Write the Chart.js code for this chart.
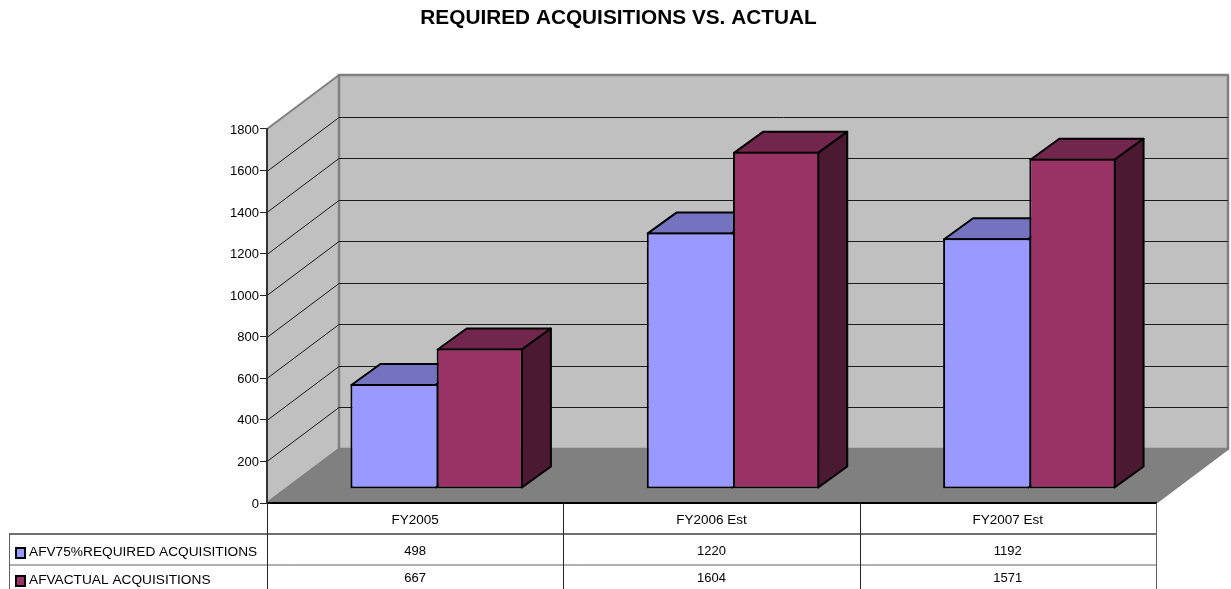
<!DOCTYPE html>
<html>
<head>
<meta charset="utf-8">
<title>Required acquisitions vs. actual</title>
<script src="https://cdn.jsdelivr.net/npm/chart.js@4/dist/chart.umd.min.js"></script>
<style>
  html, body { margin: 0; padding: 0; background: #fff; overflow: hidden; }
  canvas { display: block; }
</style>
</head>
<body>
<canvas id="chartAcq" width="1231" height="589"></canvas>
<script>
const categories = ['FY2005', 'FY2006 Est', 'FY2007 Est'];
const requiredName = 'AFV75%REQUIRED ACQUISITIONS';
const actualName = 'AFVACTUAL ACQUISITIONS';
const requiredValues = [498, 1220, 1192];
const actualValues = [667, 1604, 1571];

const FONT = '"Liberation Sans", Arial, sans-serif';
const BLUE = '#9999ff', BLUE_TOP = '#7373bf', BLUE_SIDE = '#4d4d80';
const RED = '#993366', RED_TOP = '#73264d', RED_SIDE = '#4c1933';

// box depth of the plot, the bars' plane inside it, and the bars' own depth
const wall = { dx: 72, dy: -54 };
const plane = { dx: 21.5, dy: -14.5 };
const bar = { dx: 29, dy: -21 };

function poly(ctx, pts, fill, stroke, lw) {
  ctx.beginPath();
  pts.forEach((p, i) => i ? ctx.lineTo(p[0], p[1]) : ctx.moveTo(p[0], p[1]));
  ctx.closePath();
  if (fill) { ctx.fillStyle = fill; ctx.fill(); }
  if (stroke) { ctx.strokeStyle = stroke; ctx.lineWidth = lw; ctx.stroke(); }
}

const box3d = {
  id: 'box3d',
  afterLayout(chart) {
    // title sits a little right of the canvas middle
    chart.titleBlock.left = 0;
    chart.titleBlock.right = 1237;
  },
  beforeDraw(chart) {
    const { ctx, chartArea: a, scales } = chart;
    const l = a.left, r = a.right, t = a.top, b = a.bottom;
    const dx = wall.dx, dy = wall.dy;
    ctx.save();
    ctx.lineJoin = 'round';
    // back wall, side wall, floor
    poly(ctx, [[l, t], [l + dx, t + dy], [l + dx, b + dy], [l, b]], '#c0c0c0', '#808080', 2);
    poly(ctx, [[l + dx, t + dy], [r + dx, t + dy], [r + dx, b + dy], [l + dx, b + dy]], '#c0c0c0', '#808080', 2.5);
    poly(ctx, [[l, b], [l + dx, b + dy], [r + dx, b + dy], [r, b]], '#808080', '#808080', 2);
    // grid runs along the side wall and across the back
    ctx.strokeStyle = '#1a1a1a';
    ctx.lineWidth = 1;
    scales.y.ticks.forEach(tk => {
      if (tk.value === 0 || tk.value === 1800) return;
      const y = Math.round(scales.y.getPixelForValue(tk.value)) + 0.5;
      ctx.beginPath();
      ctx.moveTo(l, y);
      ctx.lineTo(l + dx, y + dy);
      ctx.lineTo(r + dx, y + dy);
      ctx.stroke();
    });
    ctx.restore();
  },
  beforeDatasetsDraw(chart) {
    const { ctx } = chart;
    const colors = [[BLUE_TOP, BLUE_SIDE], [RED_TOP, RED_SIDE]];
    ctx.save();
    ctx.translate(plane.dx, plane.dy);
    ctx.lineJoin = 'round';
    [0, 1].forEach(ds => {
      chart.getDatasetMeta(ds).data.forEach(el => {
        const left = el.x - el.width / 2, right = el.x + el.width / 2;
        const top = el.y, base = el.base;
        const inset = 1;
        poly(ctx, [[left + inset, top + inset], [left + inset + bar.dx, top + inset + bar.dy],
          [right - inset + bar.dx, top + inset + bar.dy], [right - inset, top + inset]], colors[ds][0], '#000', 2);
        poly(ctx, [[right - inset, top + inset], [right - inset + bar.dx, top + inset + bar.dy],
          [right - inset + bar.dx, base - inset + bar.dy], [right - inset, base - inset]], colors[ds][1], '#000', 2);
      });
    });
    ctx.restore();
    // front faces go in the same plane
    ctx.save();
    ctx.translate(plane.dx, plane.dy);
  },
  afterDatasetsDraw(chart) {
    chart.ctx.restore();
  },
  afterDraw(chart) {
    const { ctx, chartArea: a, scales } = chart;
    const left = 9, l = a.left, r = a.right, b = a.bottom;
    const end = 589;
    const step = (r - l) / categories.length;
    ctx.save();
    // data table rules
    ctx.strokeStyle = '#707070';
    ctx.lineWidth = 2;
    ctx.beginPath();
    ctx.moveTo(left, 534); ctx.lineTo(r, 534);
    ctx.stroke();
    ctx.strokeStyle = '#606060';
    ctx.lineWidth = 1;
    ctx.beginPath();
    ctx.moveTo(left, 565); ctx.lineTo(r, 565);
    ctx.moveTo(left + 0.5, 533); ctx.lineTo(left + 0.5, end);
    ctx.moveTo(Math.round(r) + 0.5, b); ctx.lineTo(Math.round(r) + 0.5, end);
    ctx.stroke();
    ctx.strokeStyle = '#262626';
    ctx.beginPath();
    for (let i = 0; i < categories.length; i++) {
      const x = Math.round(l + step * i) + 0.5;
      ctx.moveTo(x, b); ctx.lineTo(x, end);
    }
    ctx.stroke();
    // legend keys and series names
    ctx.font = '13.7px ' + FONT;
    ctx.textBaseline = 'middle';
    ctx.textAlign = 'left';
    [[BLUE, 548, requiredName, 552.5], [RED, 576, actualName, 580.5]].forEach(([c, ky, name, ty]) => {
      ctx.fillStyle = c;
      ctx.strokeStyle = '#000';
      ctx.lineWidth = 2;
      ctx.fillRect(16, ky, 9, 10);
      ctx.strokeRect(16, ky, 9, 10);
      ctx.fillStyle = '#000';
      ctx.fillText(name, 29, ty);
    });
    // values per category
    ctx.font = '13px ' + FONT;
    ctx.textAlign = 'center';
    categories.forEach((c, i) => {
      const x = scales.x.getPixelForValue(i);
      ctx.fillText(String(requiredValues[i]), x, 551);
      ctx.fillText(String(actualValues[i]), x, 578.5);
    });
    ctx.restore();
  }
};

new Chart(document.getElementById('chartAcq'), {
  type: 'bar',
  data: {
    labels: categories,
    datasets: [
      { label: requiredName, data: requiredValues, yAxisID: 'yBars', backgroundColor: BLUE, borderColor: '#000',
        borderWidth: { top: 2, left: 2, bottom: 2, right: 0 }, borderSkipped: false },
      { label: actualName, data: actualValues, yAxisID: 'yBars', backgroundColor: RED, borderColor: '#000',
        borderWidth: 2, borderSkipped: false }
    ]
  },
  plugins: [box3d],
  options: {
    responsive: false,
    animation: false,
    layout: { padding: { top: 0, right: 75, bottom: 0, left: 0 } },
    datasets: { bar: { categoryPercentage: 0.582, barPercentage: 1 } },
    plugins: {
      legend: { display: false },
      tooltip: { enabled: false },
      title: {
        display: true,
        text: 'REQUIRED ACQUISITIONS VS. ACTUAL',
        color: '#000',
        font: { family: FONT, size: 20.8, weight: 'bold' },
        padding: { top: 6, bottom: 98 }
      }
    },
    scales: {
      x: {
        afterFit(scale) { scale.height = 86; },
        grid: { display: false },
        border: { color: '#000', width: 2 },
        ticks: { color: '#000', font: { family: FONT, size: 13.5 }, padding: 1, maxRotation: 0 }
      },
      y: {
        min: 0,
        max: 1800,
        afterFit(scale) { scale.width = 267; },
        grid: { drawOnChartArea: false, tickLength: 7, color: '#222' },
        border: { color: '#333', width: 2 },
        ticks: { stepSize: 200, color: '#000', font: { family: FONT, size: 13 }, padding: 1, labelOffset: 1,
          callback: v => String(v) }
      },
      // bars stand nearer the viewer than the axis, so their plane reads slightly larger
      yBars: { display: false, min: 0, max: 1782 }
    }
  }
});
</script>
</body>
</html>
